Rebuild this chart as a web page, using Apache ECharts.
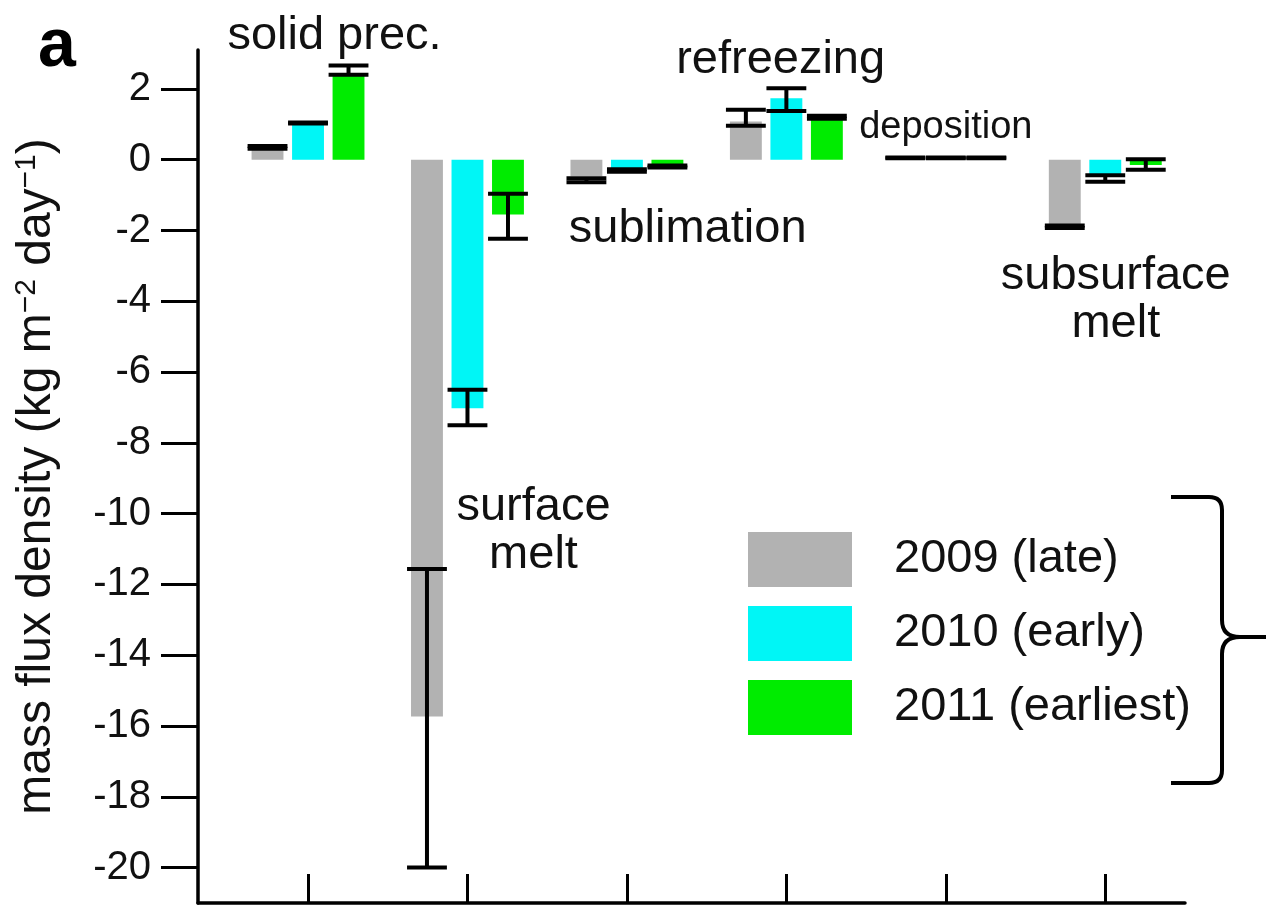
<!DOCTYPE html>
<html>
<head>
<meta charset="utf-8">
<style>
  html, body { margin: 0; padding: 0; background: #fff; }
  #chart { width: 1266px; height: 907px; }
</style>
<script src="https://cdn.jsdelivr.net/npm/echarts@6.0.0/dist/echarts.min.js"></script>
</head>
<body>
<div id="chart"></div>
<script>
// Mass flux components, one group per component (x = 1..6)
const categories = ['solid prec.', 'surface\nmelt', 'sublimation', 'refreezing', 'deposition', 'subsurface\nmelt'];
const seriesNames = ['2009 (late)', '2010 (early)', '2011 (earliest)'];

// Mean values (kg m-2 day-1)
const values2009 = [0.30, -15.73, -0.47, 1.08, 0.05, -1.88];
const values2010 = [1.03, -7.02, -0.24, 1.74, 0.05, -0.40];
const values2011 = [2.45, -1.55, -0.15, 1.13, 0.05, -0.15];

// Error-bar ranges (lower / upper)
const low2009 = [0.31, -20.00, -0.64, 0.96, 0.04, -1.93];
const high2009 = [0.39, -11.56, -0.52, 1.41, 0.06, -1.86];
const low2010 = [1.02, -7.50, -0.34, 1.38, 0.04, -0.62];
const high2010 = [1.05, -6.50, -0.27, 2.02, 0.06, -0.44];
const low2011 = [2.40, -2.23, -0.22, 1.16, 0.04, -0.28];
const high2011 = [2.66, -0.96, -0.16, 1.24, 0.06, 0.01];

// Y-axis tick labels
const yTicks = [-20, -18, -16, -14, -12, -10, -8, -6, -4, -2, 0, 2];
// X-axis tick positions (group centres)
const xTicks = [1, 2, 3, 4, 5, 6];

// Component labels, anchored in data coordinates [x, y]
const labelAnchors = [
  [1.166, 3.50],
  [2.414, -10.48],
  [3.381, -1.96],
  [3.964, 2.81],
  [5.00, 0.92],
  [6.066, -3.96]
];

const FONT = '"Liberation Sans", Arial, sans-serif';
const colors = ['#b2b2b2', '#00f6f6', '#00ec00'];
const groupOffset = 0.254;   // distance between neighbouring bars, in group units
const barFrac = 0.2;         // bar width, in group units
const capFrac = 0.25;        // error-bar cap width, in group units

function buildRows(vals, lo, hi) {
  return vals.map((v, i) => [i + 1, v, lo[i], hi[i]]);
}

function barSeries(name, rows, slot, color) {
  return {
    name: name,
    type: 'custom',
    itemStyle: { color: color },
    data: rows,
    encode: { x: 0, y: [1, 2, 3] },
    renderItem: function (params, api) {
      const xc = api.value(0) + slot * groupOffset;
      const v = api.value(1), lo = api.value(2), hi = api.value(3);
      const unit = api.size([1, 0])[0];
      const bw = unit * barFrac, cw = unit * capFrac;
      const p0 = api.coord([xc, 0]);
      const pv = api.coord([xc, v]);
      const pl = api.coord([xc, lo]);
      const ph = api.coord([xc, hi]);
      const ink = { stroke: '#000', lineWidth: 4 };
      return {
        type: 'group',
        children: [
          { type: 'rect', shape: { x: p0[0] - bw / 2, y: Math.min(p0[1], pv[1]), width: bw, height: Math.abs(pv[1] - p0[1]) }, style: { fill: color } },
          { type: 'line', shape: { x1: pl[0], y1: pl[1], x2: ph[0], y2: ph[1] }, style: ink },
          { type: 'line', shape: { x1: pl[0] - cw / 2, y1: pl[1], x2: pl[0] + cw / 2, y2: pl[1] }, style: ink },
          { type: 'line', shape: { x1: ph[0] - cw / 2, y1: ph[1], x2: ph[0] + cw / 2, y2: ph[1] }, style: ink }
        ]
      };
    }
  };
}

// Curly brace to the right of the legend
const braceInk = { stroke: '#000', lineWidth: 4, fill: null };
const brace = {
  type: 'group', silent: true,
  children: [
    { type: 'line', shape: { x1: 1171, y1: 497, x2: 1209, y2: 497 }, style: braceInk },
    { type: 'bezierCurve', shape: { x1: 1209, y1: 497, cpx1: 1222, cpy1: 497, x2: 1222, y2: 510 }, style: braceInk },
    { type: 'line', shape: { x1: 1222, y1: 510, x2: 1222, y2: 620 }, style: braceInk },
    { type: 'bezierCurve', shape: { x1: 1222, y1: 620, cpx1: 1222, cpy1: 637, x2: 1240, y2: 637 }, style: braceInk },
    { type: 'line', shape: { x1: 1240, y1: 637, x2: 1266, y2: 637 }, style: braceInk },
    { type: 'bezierCurve', shape: { x1: 1240, y1: 637, cpx1: 1222, cpy1: 637, x2: 1222, y2: 654 }, style: braceInk },
    { type: 'line', shape: { x1: 1222, y1: 654, x2: 1222, y2: 770 }, style: braceInk },
    { type: 'bezierCurve', shape: { x1: 1222, y1: 770, cpx1: 1222, cpy1: 783, x2: 1209, y2: 783 }, style: braceInk },
    { type: 'line', shape: { x1: 1209, y1: 783, x2: 1171, y2: 783 }, style: braceInk }
  ]
};

const chart = echarts.init(document.getElementById('chart'), null, { renderer: 'canvas' });

const option = {
  backgroundColor: '#ffffff',
  animation: false,
  title: {
    text: 'a', left: 38, top: 13, padding: 0,
    textStyle: { fontFamily: FONT, fontSize: 68, fontWeight: 'bold', color: '#000' }
  },
  grid: { left: 198, right: 81, top: 50, bottom: 4, containLabel: false },
  xAxis: {
    type: 'value', min: 0.31, max: 6.5,
    axisLine: { show: true, onZero: false, lineStyle: { color: '#000', width: 3.5 } },
    axisTick: { show: true, inside: true, length: 29, customValues: xTicks, lineStyle: { color: '#000', width: 3 } },
    axisLabel: { show: false },
    splitLine: { show: false }
  },
  yAxis: {
    type: 'value', min: -21, max: 3.1,
    name: '{t|mass flux density (kg m}{s|−2}{t| day}{s|−1}{t|)}',
    nameLocation: 'middle', nameGap: 136,
    nameTextStyle: {
      rich: {
        t: { fontFamily: FONT, fontSize: 48, color: '#111', lineHeight: 50 },
        s: { fontFamily: FONT, fontSize: 30, color: '#111', lineHeight: 50, verticalAlign: 'top' }
      }
    },
    axisLine: { show: true, lineStyle: { color: '#000', width: 3.5 } },
    axisTick: { show: true, inside: false, length: 37, customValues: yTicks, lineStyle: { color: '#000', width: 3 } },
    axisLabel: { show: true, margin: 47, customValues: yTicks, fontFamily: FONT, fontSize: 40, color: '#111' },
    splitLine: { show: false }
  },
  legend: {
    orient: 'vertical', left: 748, top: 532, padding: 0,
    itemWidth: 104, itemHeight: 55, itemGap: 19, icon: 'rect',
    selectedMode: false,
    data: seriesNames,
    textStyle: { fontFamily: FONT, fontSize: 47, color: '#111', padding: [0, 0, 0, 37] }
  },
  series: [
    barSeries(seriesNames[0], buildRows(values2009, low2009, high2009), -1, colors[0]),
    barSeries(seriesNames[1], buildRows(values2010, low2010, high2010), 0, colors[1]),
    barSeries(seriesNames[2], buildRows(values2011, low2011, high2011), 1, colors[2]),
    {
      name: 'labels',
      type: 'custom',
      silent: true,
      data: labelAnchors,
      encode: { x: 0, y: 1 },
      renderItem: function (params, api) {
        const p = api.coord([api.value(0), api.value(1)]);
        const small = params.dataIndex === 4;
        return {
          type: 'text', x: p[0], y: p[1],
          style: {
            text: categories[params.dataIndex],
            fill: '#111', fontFamily: FONT,
            fontSize: small ? 38 : 47, lineHeight: 48,
            align: 'center', verticalAlign: 'middle'
          }
        };
      }
    }
  ],
  graphic: [brace]
};

chart.setOption(option);
</script>
</body>
</html>
